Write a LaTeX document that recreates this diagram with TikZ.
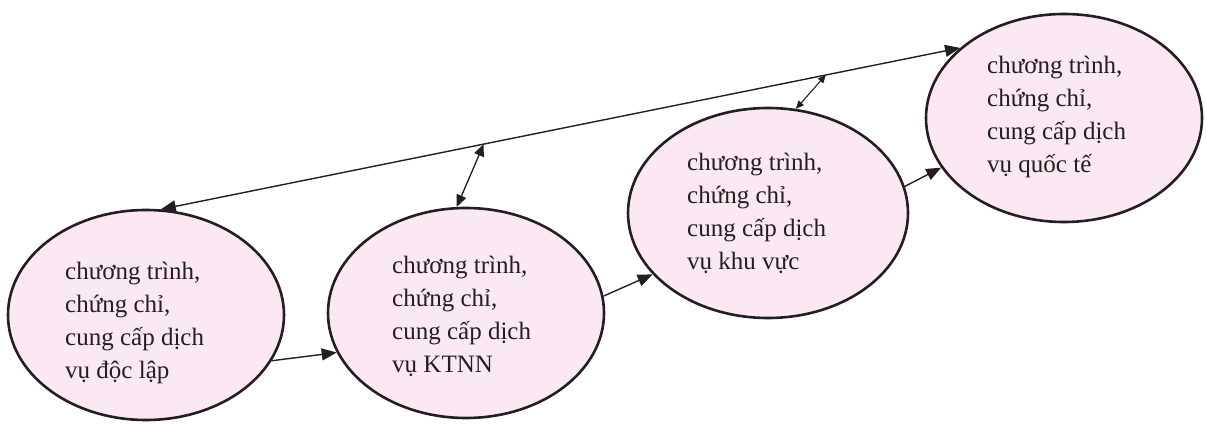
\documentclass[tikz,border=0pt]{standalone}
\usepackage{fontspec}
\setmainfont{Liberation Serif}
\usetikzlibrary{shapes.geometric,arrows.meta}
\definecolor{ellfill}{RGB}{252,232,242}
\definecolor{ink}{RGB}{35,31,32}
\tikzset{
  ell/.style={ellipse, draw=ink, fill=ellfill, line width=2.6pt, inner sep=0pt},
  txt/.style={align=left, inner sep=0pt, text=ink, font=\fontsize{25}{33}\selectfont},
  conn/.style={draw=ink, line width=1.4pt, -{Triangle[length=15pt,width=12pt]}},
  dbl/.style={draw=ink, line width=1.4pt, {Triangle[length=15pt,width=12pt]}-{Triangle[length=15pt,width=12pt]}},
  dblmid/.style={draw=ink, line width=1.3pt, {Triangle[length=12pt,width=10pt]}-{Triangle[length=12pt,width=10pt]}},
  dblsmall/.style={draw=ink, line width=1.1pt, {Triangle[length=8pt,width=7pt]}-{Triangle[length=8pt,width=7pt]}},
}
\begin{document}
\begin{tikzpicture}[x=1pt,y=-1pt]
\useasboundingbox (0,0) rectangle (1206,427);
\node[ell, minimum width=276pt, minimum height=210pt] (e1) at (146,315) {};
\node[ell, minimum width=276pt, minimum height=210pt] (e2) at (466,313) {};
\node[ell, minimum width=280pt, minimum height=210pt] (e3) at (768,213) {};
\node[ell, minimum width=276pt, minimum height=208pt] (e4) at (1064,118) {};
\node[txt, anchor=base west] (t1) at (65,378) {chương trình,\\chứng chỉ,\\cung cấp dịch\\vụ độc lập};
\node[txt, anchor=base west] (t2) at (392,372) {chương trình,\\chứng chỉ,\\cung cấp dịch\\vụ KTNN};
\node[txt, anchor=base west] (t3) at (687,270) {chương trình,\\chứng chỉ,\\cung cấp dịch\\vụ khu vực};
\node[txt, anchor=base west] (t4) at (987,173) {chương trình,\\chứng chỉ,\\cung cấp dịch\\vụ quốc tế};
\draw[conn] (e1.-20) -- (e2.197);
\draw[conn] (e2.7.5) -- (e3.208.8);
\draw[conn] (e3.11.3) -- (e4.202.6);
\draw[dbl] (e4.146) -- (e1.82.5);
\path (e4.146) -- (e1.82.5) coordinate[pos=0.596] (p1) coordinate[pos=0.168] (p2);
\draw[dblmid] (p1) -- (e2.95.8);
\draw[dblsmall] (p2) -- (e3.75.6);
\end{tikzpicture}
\end{document}
